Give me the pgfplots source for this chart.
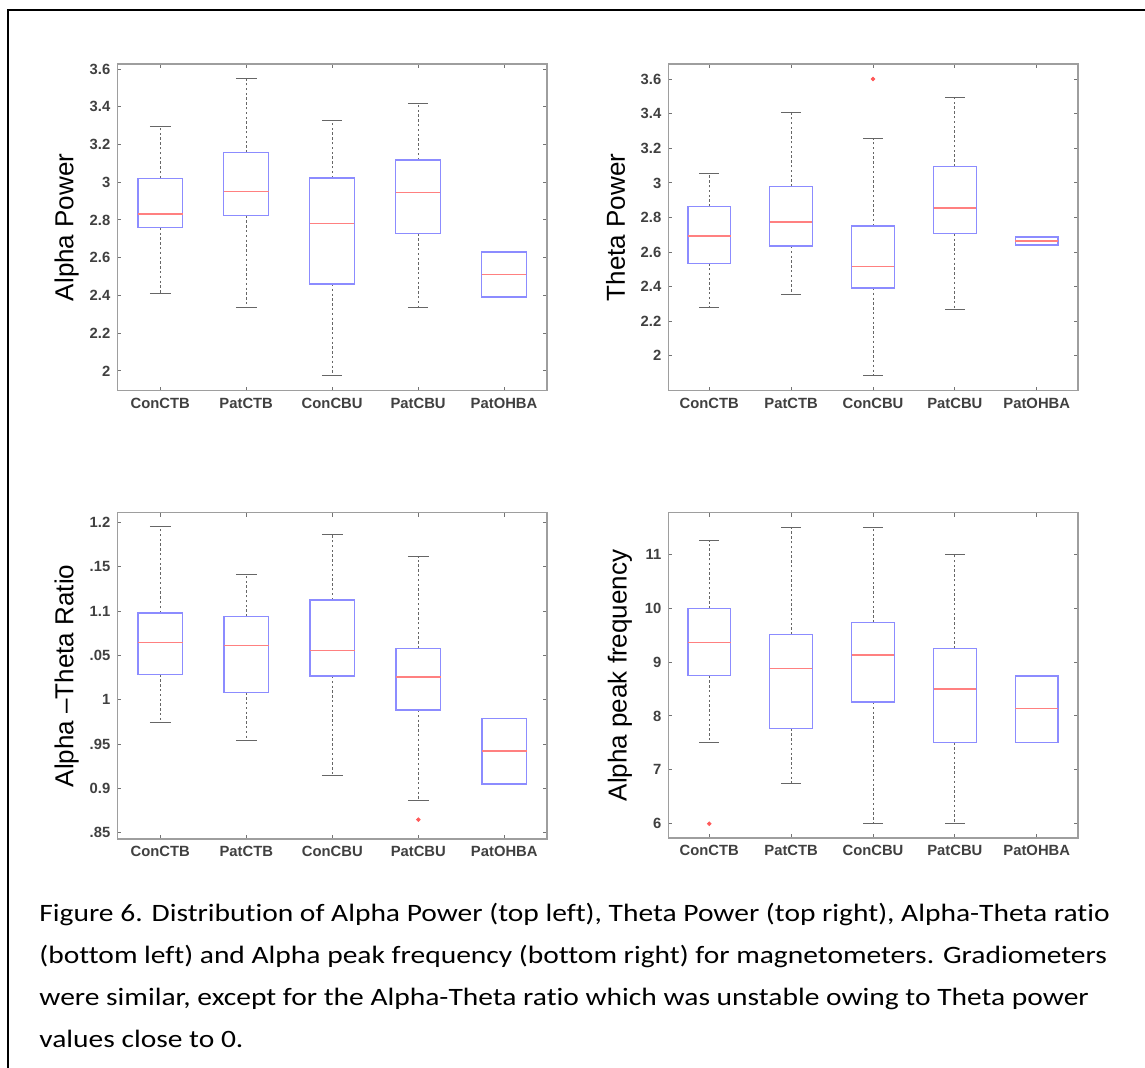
\documentclass[border=0pt]{standalone}
\usepackage{pgfplots}
\pgfplotsset{compat=1.18}
\usepgfplotslibrary{statistics}
\usepackage{fontspec}
\setmainfont{Liberation Sans}
\newfontfamily\capfont[Ligatures=NoCommon]{Carlito}

\definecolor{boxblue}{rgb}{0.55,0.55,1}
\definecolor{medred}{rgb}{1,0.5,0.5}
\definecolor{axgray}{gray}{0.62}
\definecolor{whgray}{gray}{0.4}

\pgfplotsset{
  panel/.style={
    scale only axis,
    anchor=north west,
    xmin=0.5, xmax=5.5,
    xtick={1,2,3,4,5},
    xticklabels={ConCTB,PatCTB,ConCBU,PatCBU,PatOHBA},
    axis line style={axgray, line width=0.8pt},
    major tick length=2pt,
    tick style={black!55, line width=0.5pt},
    tick align=inside,
    ticklabel style={font=\fontsize{7.4}{8}\selectfont\bfseries, text=black!75},
    /pgf/number format/assume math mode=true,
    ylabel style={font=\fontsize{13}{14}\selectfont, at={(axis description cs:-0.118,0.5)}, anchor=center},
    boxplot/draw direction=y,
    boxplot/every box/.style={draw=boxblue, line width=0.6pt},
    boxplot/every median/.style={draw=medred, line width=0.6pt},
    boxplot/every whisker/.style={draw=whgray, line width=0.45pt},
    boxplot/box extend=0.52,
    boxplot/whisker extend=0.24,
    boxplot/draw/lower whisker/.code={%
      \draw[/pgfplots/boxplot/every whisker/.try, dash pattern=on 1.2pt off 1.2pt]
        (boxplot box cs:\pgfplotsboxplotvalue{lower quartile},0.5) --
        (boxplot box cs:\pgfplotsboxplotvalue{lower whisker},0.5);
      \draw[/pgfplots/boxplot/every whisker/.try]
        (boxplot whisker cs:\pgfplotsboxplotvalue{lower whisker},0) --
        (boxplot whisker cs:\pgfplotsboxplotvalue{lower whisker},1);
    },
    boxplot/draw/upper whisker/.code={%
      \draw[/pgfplots/boxplot/every whisker/.try, dash pattern=on 1.2pt off 1.2pt]
        (boxplot box cs:\pgfplotsboxplotvalue{upper quartile},0.5) --
        (boxplot box cs:\pgfplotsboxplotvalue{upper whisker},0.5);
      \draw[/pgfplots/boxplot/every whisker/.try]
        (boxplot whisker cs:\pgfplotsboxplotvalue{upper whisker},0) --
        (boxplot whisker cs:\pgfplotsboxplotvalue{upper whisker},1);
    },
  },
  outl/.style={color=red!65, mark=*, mark size=0.9pt, mark options={draw=red!65, fill=red!65, solid}},
}

\begin{document}
\begin{tikzpicture}
\useasboundingbox (0,0) rectangle (572.5pt,534pt);
\draw[line width=1pt] (4pt,0) -- (4pt,529pt) -- (572.5pt,529pt);

% top left: alpha power
\begin{axis}[panel, at={(58.65pt,502pt)}, width=214.85pt, height=163.35pt,
  ymin=1.895, ymax=3.627, ytick={2,2.2,...,3.6}, ylabel={Alpha Power}]
\addplot[outl, boxplot prepared={draw position=1, lower whisker=2.408, lower quartile=2.759, median=2.832, upper quartile=3.021, upper whisker=3.296}] coordinates {};
\addplot[outl, boxplot prepared={draw position=2, lower whisker=2.337, lower quartile=2.823, median=2.952, upper quartile=3.157, upper whisker=3.549}] coordinates {};
\addplot[outl, boxplot prepared={draw position=3, lower whisker=1.977, lower quartile=2.461, median=2.781, upper quartile=3.023, upper whisker=3.325}] coordinates {};
\addplot[outl, boxplot prepared={draw position=4, lower whisker=2.336, lower quartile=2.728, median=2.947, upper quartile=3.118, upper whisker=3.416}] coordinates {};
\addplot[outl, boxplot prepared={draw position=5, whisker extend=0, lower whisker=2.392, lower quartile=2.392, median=2.512, upper quartile=2.630, upper whisker=2.630}] coordinates {};
\end{axis}

% top right: theta power
\begin{axis}[panel, at={(334.15pt,502pt)}, width=204.7pt, height=163.35pt,
  ymin=1.797, ymax=3.689, ytick={2,2.2,...,3.6}, ylabel={Theta Power},
  ylabel style={at={(axis description cs:-0.129,0.5)}}]
\addplot[outl, boxplot prepared={draw position=1, lower whisker=2.278, lower quartile=2.535, median=2.693, upper quartile=2.863, upper whisker=3.056}] coordinates {};
\addplot[outl, boxplot prepared={draw position=2, lower whisker=2.357, lower quartile=2.635, median=2.774, upper quartile=2.979, upper whisker=3.409}] coordinates {};
\addplot[outl, boxplot prepared={draw position=3, lower whisker=1.886, lower quartile=2.392, median=2.515, upper quartile=2.751, upper whisker=3.255}] coordinates {(0,3.602)};
\addplot[outl, boxplot prepared={draw position=4, lower whisker=2.268, lower quartile=2.706, median=2.855, upper quartile=3.096, upper whisker=3.494}] coordinates {};
\addplot[outl, boxplot prepared={draw position=5, whisker extend=0, lower whisker=2.641, lower quartile=2.641, median=2.664, upper quartile=2.687, upper whisker=2.687}] coordinates {};
\end{axis}

% bottom left: alpha-theta ratio
\begin{axis}[panel, at={(58.65pt,277.65pt)}, width=215pt, height=163.3pt,
  ymin=0.8425, ymax=1.2113, ytick={0.85,0.9,0.95,1,1.05,1.1,1.15,1.2},
  yticklabels={.85,0.9,.95,1,.05,1.1,.15,1.2}, ylabel={Alpha --Theta Ratio}]
\addplot[outl, boxplot prepared={draw position=1, lower whisker=0.9746, lower quartile=1.0284, median=1.0649, upper quartile=1.098, upper whisker=1.1955}] coordinates {};
\addplot[outl, boxplot prepared={draw position=2, lower whisker=0.9546, lower quartile=1.0084, median=1.0615, upper quartile=1.0939, upper whisker=1.142}] coordinates {};
\addplot[outl, boxplot prepared={draw position=3, lower whisker=0.9143, lower quartile=1.0269, median=1.0555, upper quartile=1.1127, upper whisker=1.1868}] coordinates {};
\addplot[outl, boxplot prepared={draw position=4, lower whisker=0.8865, lower quartile=0.9885, median=1.0257, upper quartile=1.0581, upper whisker=1.1616}] coordinates {(0,0.8647)};
\addplot[outl, boxplot prepared={draw position=5, whisker extend=0, lower whisker=0.9049, lower quartile=0.9049, median=0.9422, upper quartile=0.9787, upper whisker=0.9787}] coordinates {};
\end{axis}

% bottom right: alpha peak frequency
\begin{axis}[panel, at={(334.15pt,277.65pt)}, width=204.7pt, height=162.8pt,
  ymin=5.728, ymax=11.774, ytick={6,7,...,11}, ylabel={Alpha peak frequency}]
\addplot[outl, boxplot prepared={draw position=1, lower whisker=7.51, lower quartile=8.748, median=9.366, upper quartile=9.998, upper whisker=11.254}] coordinates {(0,6.0)};
\addplot[outl, boxplot prepared={draw position=2, lower whisker=6.743, lower quartile=7.764, median=8.877, upper quartile=9.509, upper whisker=11.5}] coordinates {};
\addplot[outl, boxplot prepared={draw position=3, lower whisker=6.0, lower quartile=8.259, median=9.131, upper quartile=9.738, upper whisker=11.5}] coordinates {};
\addplot[outl, boxplot prepared={draw position=4, lower whisker=6.0, lower quartile=7.51, median=8.5, upper quartile=9.249, upper whisker=11.006}] coordinates {};
\addplot[outl, boxplot prepared={draw position=5, whisker extend=0, lower whisker=7.51, lower quartile=7.51, median=8.135, upper quartile=8.741, upper whisker=8.741}] coordinates {};
\end{axis}

\begin{scope}[every node/.style={anchor=base west, inner sep=0pt, font=\capfont\fontsize{12.5}{14}\selectfont}]
\node at (19.5pt,73pt) {\scalebox{1.18}[1]{Figure 6. Distribution of Alpha Power (top left), Theta Power (top right), Alpha-Theta ratio}};
\node at (19.5pt,52pt) {\scalebox{1.18}[1]{(bottom left) and Alpha peak frequency (bottom right) for magnetometers. Gradiometers}};
\node at (19.5pt,31pt) {\scalebox{1.18}[1]{were similar, except for the Alpha-Theta ratio which was unstable owing to Theta power}};
\node at (19.5pt,10pt) {\scalebox{1.18}[1]{values close to 0.}};
\end{scope}
\end{tikzpicture}
\end{document}
